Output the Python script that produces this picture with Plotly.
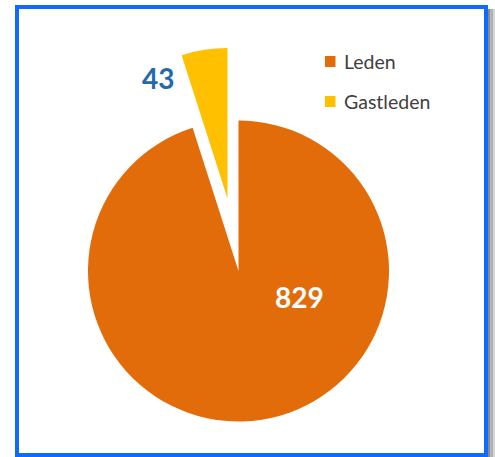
import plotly.graph_objects as go

# Membership counts
labels = ["Leden", "Gastleden"]
values = [829, 43]
colors = ["#E36C0A", "#FFC000"]
value_colors = ["#FFFFFF", "#2468B0"]

W, H = 495, 457
CLEAR = "rgba(0,0,0,0)"


def domain(cx, cy, r):
    """Pie domain (paper fractions) for a pie centred at pixel (cx, cy) with radius r."""
    return dict(
        x=[(cx - r) / W, (cx + r) / W],
        y=[1 - (cy + r) / H, 1 - (cy - r) / H],
    )


R = 150.5
MAIN_C = (238.5, 271.0)      # centre of the full pie
PULLED_C = (227.5, 198.5)    # apex of the exploded Gastleden wedge

common = dict(
    labels=labels,
    values=values,
    sort=False,
    direction="clockwise",
    rotation=0,
    textinfo="none",
    hoverinfo="label+value",
    showlegend=False,
)

fig = go.Figure()
# Leden wedge, drawn in place
fig.add_trace(go.Pie(
    **common,
    domain=domain(*MAIN_C, R),
    marker=dict(colors=[colors[0], CLEAR], line=dict(width=0)),
))
# Gastleden wedge, exploded outward
fig.add_trace(go.Pie(
    **common,
    domain=domain(*PULLED_C, R),
    marker=dict(colors=[CLEAR, colors[1]], line=dict(width=0)),
))


def px(x):
    return x / W


def py(y):
    return 1 - y / H


FONT = "Lato, Open Sans, sans-serif"

annotations = [
    dict(x=px(299.5), y=py(297), text=f"<b>{values[0]}</b>",
         font=dict(family=FONT, size=28, color=value_colors[0])),
    dict(x=px(158), y=py(78), text=f"<b>{values[1]}</b>",
         font=dict(family=FONT, size=28, color=value_colors[1])),
]

shapes = []
# Legend: colour swatch + label per category
legend_rows = [61.5, 101.5]
for lab, col, yc in zip(labels, colors, legend_rows):
    shapes.append(dict(type="rect", xref="paper", yref="paper",
                       x0=px(325), x1=px(335.5), y0=py(yc + 5.5), y1=py(yc - 5.5),
                       fillcolor=col, line=dict(width=0)))
    annotations.append(dict(x=px(342), y=py(yc), text=lab, xanchor="left", yanchor="middle",
                            font=dict(family=FONT, size=19.5, color="#404040")))

for a in annotations:
    a.setdefault("xref", "paper")
    a.setdefault("yref", "paper")
    a.setdefault("xanchor", "center")
    a.setdefault("yanchor", "middle")
    a.setdefault("showarrow", False)

# Soft drop shadow on the right edge of the frame
for x0, x1, g in [(488, 490.5, "#8a8a8a"), (490.5, 493, "#b0b0b0"), (493, 495, "#d6d6d6")]:
    shapes.append(dict(type="rect", xref="paper", yref="paper",
                       x0=px(x0), x1=px(x1), y0=0, y1=py(9),
                       fillcolor=g, line=dict(width=0), layer="below"))
# Blue frame
shapes.append(dict(type="rect", xref="paper", yref="paper",
                   x0=px(17), x1=px(486), y0=py(455), y1=py(7),
                   line=dict(color="#0F6BFF", width=4), fillcolor=CLEAR))

fig.update_layout(
    width=W, height=H,
    margin=dict(l=0, r=0, t=0, b=0),
    paper_bgcolor="white",
    plot_bgcolor="white",
    shapes=shapes,
    annotations=annotations,
    showlegend=False,
)

fig.write_html("out.html")
